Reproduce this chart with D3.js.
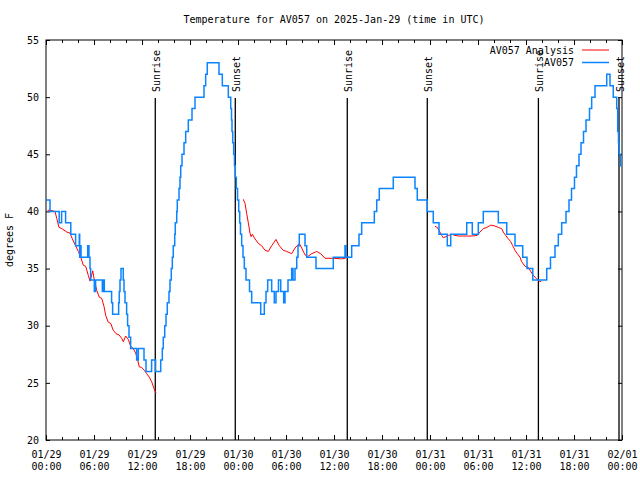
<!DOCTYPE html>
<html><head><meta charset="utf-8">
<script src="https://cdn.jsdelivr.net/npm/d3@7"></script>
<style>body{margin:0;background:#fff}svg text{font-family:"DejaVu Sans Mono",monospace;font-size:10px;fill:#000}</style>
</head><body>
<script>
const chartTitle = "Temperature for AV057 on 2025-Jan-29 (time in UTC)";
const yAxisLabel = "degrees F";
const yTickValues = [20,25,30,35,40,45,50,55];
const seriesNames = ["AV057 Analysis","AV057"];
// hours since 2025-01-29 00:00 UTC
const obsHours = [0,0.5,1.65,1.95,2.45,3.1,3.7,4.16,4.21,4.29,4.38,5.21,5.37,5.5,5.58,6.04,6.2,7.04,7.16,7.29,8.2,8.33,9.08,9.16,9.25,9.375,9.66,9.75,9.875,10.08,10.2,10.375,10.58,11.33,11.54,12.25,12.5,13.2,13.7,
 14.34,14.54,14.66,14.84,15.0,15.16,15.375,15.5,15.66,15.79,15.91,16.09,16.16,16.34,16.41,16.625,16.75,16.84,17.0,17.25,17.46,17.79,18.25,18.625,19.75,19.96,20.16,21.625,22.04,22.79,23.09,23.19,23.25,23.34,23.46,23.56,23.66,23.79,23.94,24.09,24.21,24.31,24.46,24.625,24.79,25.0,25.44,25.71,26.84,27.29,27.5,27.71,28.21,28.54,28.75,29.06,29.34,29.71,29.875,30.25,30.71,30.875,31.125,31.34,31.5,31.66,32.375,32.59,33.75,35.91,37.375,37.5,38.21,39.125,39.46,41.04,41.34,41.66,43.41,46.125,46.41,47.66,48.41,49.125,50.16,50.59,52.59,53.29,54.04,54.66,56.54,57.59,58.625,59.59,60.125,60.84,62.59,63.06,63.625,64.04,64.46,65.0,65.375,65.69,66.06,66.31,66.625,66.875,67.19,67.5,67.94,68.21,68.625,70.09,70.5,70.91,71.34,71.46,71.56,71.66,71.79,71.94];
const obsTemps = [41,40,39,40,39,38,37,38,36,37,36,37,36,35,34,33,34,33,34,33,32,31,32,33,34,35,34,33,32,31,30,29,28,27,28,27,26,27,26,
 27,28,29,30,31,32,33,34,35,36,37,38,39,40,41,42,43,44,45,46,47,48,49,50,51,52,53,52,51,50,49,48,47,46,45,44,43,42,41,40,39,38,37,36,35,34,33,32,31,32,33,34,33,32,33,34,33,32,33,34,35,34,35,36,37,38,37,36,35,36,37,36,37,38,39,40,41,42,43,42,41,40,39,38,37,38,39,38,39,40,39,38,37,36,35,34,35,36,37,38,39,40,41,42,43,44,45,46,47,48,49,50,51,52,51,50,49,47,46,45,44,44];
const anaHours = [0.2,0.5,1.125,1.34,1.625,1.96,2.59,3.0,3.29,3.625,4.04,4.34,4.66,4.96,5.29,5.5,5.84,6.04,6.34,6.66,6.96,7.25,7.46,7.79,8.09,8.41,8.75,9.125,9.46,9.66,9.96,10.29,10.59,10.91,11.21,11.46,11.66,11.96,12.29,12.59,12.91,13.21,13.5,13.75,
 null,
 24.66,24.875,25.09,25.29,25.5,25.625,25.79,26.125,26.54,26.96,27.375,27.79,28.21,28.75,29.16,29.66,30.09,30.71,31.125,31.66,31.96,32.375,32.71,33.21,33.84,34.34,34.875,35.91,36.96,37.375,37.79,
 null,
 48.625,48.91,49.16,49.46,49.66,50.0,50.29,50.71,51.125,51.54,52.375,53.21,53.91,54.25,54.66,55.09,55.59,56.0,56.54,56.96,57.16,57.46,57.79,58.09,58.34,58.625,58.91,59.25,59.46,59.875,60.29,60.59,60.91,61.34,61.66,61.91];
const anaTemps = [40.1,40.1,40,39.4,38.6,38.5,38.2,38.1,37.6,37.1,36.5,36.0,35.3,35.2,34.4,33.9,34.8,34.0,33.1,32.5,32.4,31.7,30.9,30.3,30.2,29.6,29.3,29.2,28.9,28.6,29.1,28.8,28.2,28.0,27.6,27.0,26.4,26.35,26.1,25.8,25.5,25.1,24.5,24.1,
 null,
 41.06,40.7,39.8,39.0,38.1,37.8,38.0,37.6,37.2,37.0,36.6,36.5,37.0,37.55,37.0,36.6,36.5,36.3,36.8,37.2,36.8,36.2,36.05,36.3,36.5,36.3,35.9,35.9,35.85,35.9,36.05,
 null,
 38.7,38.6,38.3,37.9,37.7,37.8,37.9,38.0,37.9,37.85,37.85,37.85,37.9,38.2,38.5,38.6,38.8,38.75,38.6,38.5,38.2,37.9,37.6,37.35,37.0,36.6,36.3,36.0,35.6,35.2,35.1,34.75,34.4,34.1,33.9,33.85];
const sunEvents = ["Sunrise","Sunset","Sunrise","Sunset","Sunrise","Sunset"];
const sunHours = [13.66,23.66,37.66,47.66,61.55,71.625];

const W = 640, H = 480;
const M = {left:46, right:622, top:40, bottom:440};
const t0 = Date.UTC(2025,0,29);
const toDate = h => new Date(t0 + h*3600e3);

const svg = d3.select("body").append("svg").attr("width",W).attr("height",H);
const x = d3.scaleUtc().domain([toDate(0), toDate(72)]).range([M.left, M.right]);
const y = d3.scaleLinear().domain([20,55]).range([M.bottom, M.top]);

svg.append("defs").append("clipPath").attr("id","clip").append("rect")
  .attr("x",M.left).attr("y",M.top).attr("width",M.right-M.left).attr("height",M.bottom-M.top);

// title
svg.append("text").attr("x",(M.left+M.right)/2).attr("y",23).attr("text-anchor","middle").text(chartTitle);
// y label
svg.append("text").attr("transform",`translate(13,${(M.top+M.bottom)/2}) rotate(-90)`).attr("text-anchor","middle").text(yAxisLabel);

// axes
function clean(g){ g.select(".domain").remove(); g.selectAll("line").attr("stroke","#000"); }
const fmtD = d3.utcFormat("%m/%d"), fmtT = d3.utcFormat("%H:%M");
const gxb = svg.append("g").attr("transform",`translate(0,${M.bottom})`)
  .call(d3.axisBottom(x).ticks(d3.utcHour.every(6)).tickSize(-5).tickFormat(()=>"")).call(clean);
gxb.selectAll(".tick text").remove();
gxb.selectAll(".tick").append("text").attr("text-anchor","middle").attr("fill","#000")
  .each(function(d){ const t=d3.select(this);
    t.append("tspan").attr("x",0).attr("y",18).text(fmtD(d));
    t.append("tspan").attr("x",0).attr("y",30).text(fmtT(d)); });
svg.append("g").attr("transform",`translate(0,${M.bottom})`)
  .call(d3.axisBottom(x).ticks(d3.utcHour.every(2)).tickSize(-3).tickFormat(()=>"")).call(clean);
svg.append("g").attr("transform",`translate(0,${M.top})`)
  .call(d3.axisTop(x).ticks(d3.utcHour.every(6)).tickSize(-5).tickFormat(()=>"")).call(clean);
svg.append("g").attr("transform",`translate(0,${M.top})`)
  .call(d3.axisTop(x).ticks(d3.utcHour.every(2)).tickSize(-3).tickFormat(()=>"")).call(clean);
svg.append("g").attr("transform",`translate(${M.left},0)`)
  .call(d3.axisLeft(y).tickValues(yTickValues).tickSize(-4).tickPadding(7)).call(clean)
  .selectAll("text").attr("font-family",null).attr("font-size",null).attr("fill","#000");
svg.append("g").attr("transform",`translate(${M.right},0)`)
  .call(d3.axisRight(y).tickValues(yTickValues).tickSize(-4).tickFormat(()=>"")).call(clean);
svg.selectAll("g").attr("font-family",null).attr("font-size",null);

// border
svg.append("rect").attr("x",M.left).attr("y",M.top).attr("width",M.right-M.left).attr("height",M.bottom-M.top)
  .attr("fill","none").attr("stroke","#000").attr("stroke-width",1);

// sun lines
const sunG = svg.append("g");
sunEvents.forEach((name,i)=>{
  const sx = x(toDate(sunHours[i]));
  sunG.append("line").attr("x1",sx).attr("x2",sx).attr("y1",98).attr("y2",M.bottom).attr("stroke","#000").attr("stroke-width",1.3);
  sunG.append("text").attr("transform",`translate(${sx+4.5},92) rotate(-90)`).attr("text-anchor","start").text(name);
});

// series
const anaData = anaHours.map((h,i)=>({h, v:anaTemps[i]}));
const obsData = obsHours.map((h,i)=>({h, v:obsTemps[i]}));
const lineA = d3.line().defined(d=>d.h!==null && d.v!==null).x(d=>x(toDate(d.h))).y(d=>y(d.v));
const lineO = d3.line().x(d=>x(toDate(d.h))).y(d=>y(d.v)).curve(d3.curveStepAfter);
const plot = svg.append("g").attr("clip-path","url(#clip)");
plot.append("path").datum(anaData).attr("d",lineA).attr("fill","none").attr("stroke","#ff0000").attr("stroke-width",1);
plot.append("path").datum(obsData).attr("d",lineO).attr("fill","none").attr("stroke","#0a84ff").attr("stroke-width",1.5);

// legend
const colors = ["#ff0000","#0a84ff"], widths=[1,1.5];
seriesNames.forEach((n,i)=>{
  const ly = 50 + i*12.5;
  svg.append("text").attr("x",574).attr("y",ly+3.5).attr("text-anchor","end").text(n);
  svg.append("line").attr("x1",582).attr("x2",609).attr("y1",ly).attr("y2",ly).attr("stroke",colors[i]).attr("stroke-width",widths[i]);
});
</script>
</body></html>
